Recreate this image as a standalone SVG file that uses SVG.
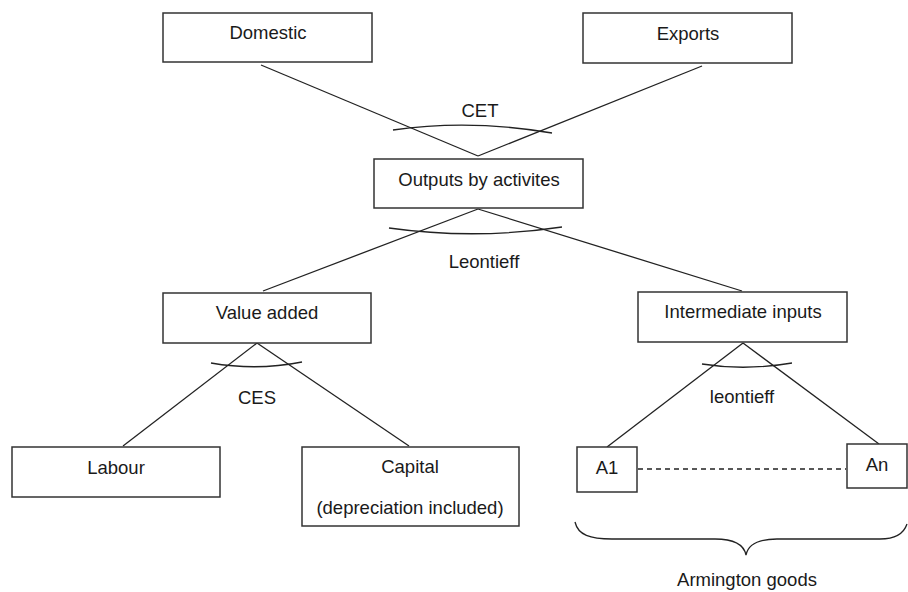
<svg xmlns="http://www.w3.org/2000/svg" width="908" height="592" viewBox="0 0 908 592">
<style>
.box{fill:#fff;stroke:#333;stroke-width:1.5}
.t{font-family:"Liberation Sans",Arial,sans-serif;font-size:18.5px;fill:#1a1a1a;text-anchor:middle}
.ln{fill:none;stroke:#222;stroke-width:1.3}
</style>
<rect width="908" height="592" fill="#fff"/>
<g id="connectors">
<line class="ln" x1="261" y1="65" x2="478" y2="156"/>
<line class="ln" x1="702" y1="66" x2="478" y2="156"/>
<path class="ln" d="M393,130 Q470,119 552,133"/>
<line class="ln" x1="478" y1="209" x2="263" y2="291"/>
<line class="ln" x1="478" y1="209" x2="742" y2="291"/>
<path class="ln" d="M389,228 Q475,240 562,227"/>
<line class="ln" x1="257" y1="343" x2="123" y2="446"/>
<line class="ln" x1="257" y1="343" x2="409" y2="446"/>
<path class="ln" d="M211,363 Q257,371 302,362"/>
<line class="ln" x1="743" y1="343" x2="607" y2="447"/>
<line class="ln" x1="743" y1="343" x2="879" y2="444"/>
<path class="ln" d="M702,364 Q745,371 792,363"/>
<line class="ln" x1="638" y1="469" x2="846" y2="469" stroke-dasharray="5,4"/>
<path class="ln" d="M575,522 C578,535 590,539 612,539 L715,539 C735,539 744,545 746,555 C748,545 757,539 777,539 L880,539 C895,539 904,533 907,524"/>
</g>
<g id="label-cet"><text class="t" x="480" y="117">CET</text></g>
<g id="label-leontieff"><text class="t" x="484" y="268">Leontieff</text></g>
<g id="label-ces"><text class="t" x="257" y="404">CES</text></g>
<g id="label-leontieff2"><text class="t" x="742" y="403">leontieff</text></g>
<g id="domestic"><rect class="box" x="163" y="13" width="209" height="49"/><text class="t" x="268" y="39">Domestic</text></g>
<g id="exports"><rect class="box" x="583" y="13" width="209" height="50"/><text class="t" x="688" y="40">Exports</text></g>
<g id="outputs"><rect class="box" x="374" y="159" width="209" height="49"/><text class="t" x="479" y="186">Outputs by activites</text></g>
<g id="value-added"><rect class="box" x="163" y="293" width="208" height="50"/><text class="t" x="267" y="319">Value added</text></g>
<g id="intermediate"><rect class="box" x="638" y="292" width="209" height="50"/><text class="t" x="743" y="318">Intermediate inputs</text></g>
<g id="labour"><rect class="box" x="12" y="447" width="208" height="50"/><text class="t" x="116" y="474">Labour</text></g>
<g id="capital"><rect class="box" x="302" y="447" width="217" height="79"/><text class="t" x="410" y="473">Capital</text><text class="t" x="410" y="514">(depreciation included)</text></g>
<g id="a1"><rect class="box" x="577" y="447" width="60" height="45"/><text class="t" x="607" y="474">A1</text></g>
<g id="an"><rect class="box" x="847" y="444" width="60" height="44"/><text class="t" x="877" y="471">An</text></g>
<g id="armington"><text class="t" x="747" y="586">Armington goods</text></g>
</svg>
